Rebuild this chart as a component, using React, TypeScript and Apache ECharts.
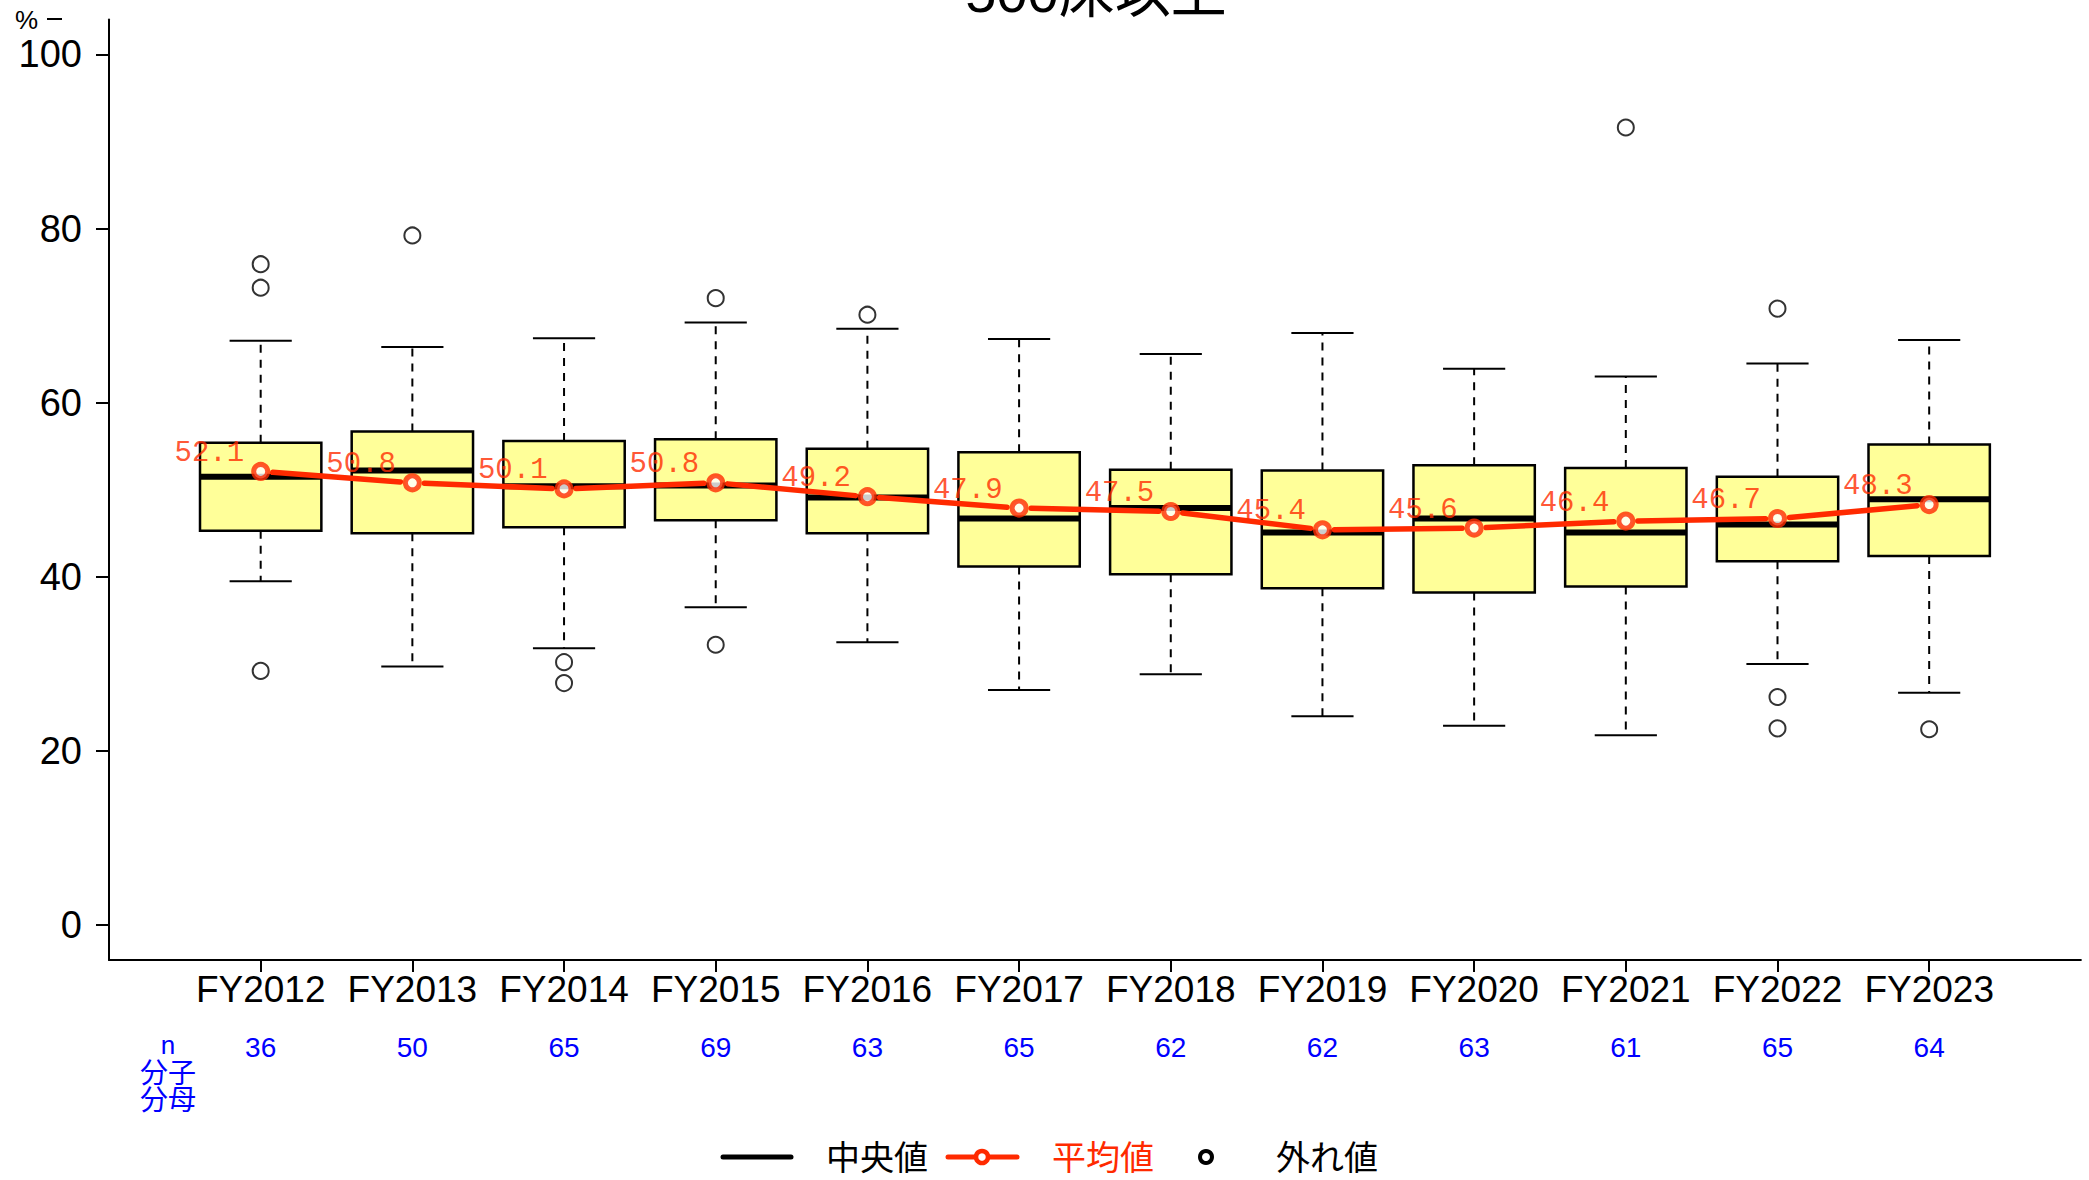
import React, { useEffect, useRef } from 'react';
import * as echarts from 'echarts';

const categories = ['FY2012', 'FY2013', 'FY2014', 'FY2015', 'FY2016', 'FY2017', 'FY2018', 'FY2019', 'FY2020', 'FY2021', 'FY2022', 'FY2023'];
const counts = [36, 50, 65, 69, 63, 65, 62, 62, 63, 61, 65, 64];
const whiskerLow = [39.5, 29.7, 31.8, 36.5, 32.5, 27.0, 28.8, 24.0, 22.9, 21.8, 30.0, 26.7];
const q1 = [45.3, 45.0, 45.7, 46.5, 45.0, 41.2, 40.3, 38.7, 38.2, 38.9, 41.8, 42.4];
const medians = [51.5, 52.2, 50.4, 50.5, 49.1, 46.7, 47.9, 45.1, 46.7, 45.1, 46.0, 48.9];
const q3 = [55.4, 56.7, 55.6, 55.8, 54.7, 54.3, 52.3, 52.2, 52.8, 52.5, 51.5, 55.2];
const whiskerHigh = [67.1, 66.4, 67.4, 69.2, 68.5, 67.3, 65.6, 68.0, 63.9, 63.0, 64.5, 67.2];
const means = [52.1, 50.8, 50.1, 50.8, 49.2, 47.9, 47.5, 45.4, 45.6, 46.4, 46.7, 48.3];
const outlierCats = ['FY2012', 'FY2012', 'FY2012', 'FY2013', 'FY2014', 'FY2014', 'FY2015', 'FY2015', 'FY2016', 'FY2021', 'FY2022', 'FY2022', 'FY2022', 'FY2023'];
const outlierValues = [75.9, 73.2, 29.2, 79.2, 30.2, 27.8, 72.0, 32.2, 70.1, 91.6, 70.8, 26.2, 22.6, 22.5];
const yTicks = [0, 20, 40, 60, 80, 100];
const title = '500床以上';
const legendLabels = ['中央値', '平均値', '外れ値'];
const nRowLabels = ['n', '分子', '分母'];

const SANS = "'Liberation Sans', 'Noto Sans CJK JP', sans-serif";
const CJK = "'Noto Sans CJK JP', sans-serif";
const RED = '#ff2a00';
const BLUE = '#0000ff';

export default function App() {
  const ref = useRef<HTMLDivElement>(null);
  useEffect(() => {
    if (!ref.current) return;
    const chart = echarts.init(ref.current, null, { renderer: 'svg' });
    const xCats = ['', ...categories, ' '];
    const nCats = ['', ...counts.map(String), ' '];
    const boxData = categories.map((_, i) => [i + 1, whiskerLow[i], q1[i], medians[i], q3[i], whiskerHigh[i]]);
    const meanData = means.map((m, i) => [i + 1, m]);
    const outlierData = outlierCats.map((c, i) => [categories.indexOf(c) + 1, outlierValues[i]]);

    const option: any = {
      animation: false,
      backgroundColor: '#ffffff',
      grid: { left: 109, right: 6, top: 19.5, bottom: 220, containLabel: false },
      xAxis: [
        {
          type: 'category',
          data: xCats,
          boundaryGap: false,
          position: 'bottom',
          axisLine: { show: true, onZero: false, lineStyle: { color: '#000', width: 2 } },
          axisTick: { show: true, length: 12, lineStyle: { color: '#000', width: 2 }, interval: (idx: number, val: string) => val.trim() !== '' },
          axisLabel: { interval: 0, fontSize: 37, fontFamily: SANS, color: '#000', margin: 11 },
          splitLine: { show: false },
        },
        {
          type: 'category',
          data: nCats,
          boundaryGap: false,
          position: 'bottom',
          axisLine: { show: false, onZero: false },
          axisTick: { show: false },
          axisLabel: { interval: 0, fontSize: 28, fontFamily: SANS, color: BLUE, margin: 87, verticalAlign: 'middle' },
          splitLine: { show: false },
        },
      ],
      yAxis: {
        type: 'value',
        min: -4,
        max: 104,
        axisLine: { show: true, lineStyle: { color: '#000', width: 2 } },
        axisTick: { show: true, length: 13, customValues: yTicks, lineStyle: { color: '#000', width: 2 } },
        axisLabel: { customValues: yTicks, fontSize: 38, fontFamily: SANS, color: '#000', margin: 27 },
        splitLine: { show: false },
      },
      series: [
        {
          type: 'custom',
          xAxisIndex: 0,
          data: boxData,
          encode: { x: 0, y: [1, 2, 3, 4, 5] },
          z: 2,
          renderItem: (params: any, api: any) => {
            const x = api.value(0);
            const pLow = api.coord([x, api.value(1)]);
            const pQ1 = api.coord([x, api.value(2)]);
            const pMed = api.coord([x, api.value(3)]);
            const pQ3 = api.coord([x, api.value(4)]);
            const pHigh = api.coord([x, api.value(5)]);
            const band = api.coord([2, 0])[0] - api.coord([1, 0])[0];
            const hb = band * 0.4;
            const hc = band * 0.205;
            const cx = pMed[0];
            return {
              type: 'group',
              children: [
                { type: 'line', shape: { x1: cx, y1: pQ3[1], x2: cx, y2: pHigh[1] }, style: { stroke: '#000', lineWidth: 2, lineDash: [8, 7] } },
                { type: 'line', shape: { x1: cx, y1: pQ1[1], x2: cx, y2: pLow[1] }, style: { stroke: '#000', lineWidth: 2, lineDash: [8, 7] } },
                { type: 'line', shape: { x1: cx - hc, y1: pHigh[1], x2: cx + hc, y2: pHigh[1] }, style: { stroke: '#000', lineWidth: 2 } },
                { type: 'line', shape: { x1: cx - hc, y1: pLow[1], x2: cx + hc, y2: pLow[1] }, style: { stroke: '#000', lineWidth: 2 } },
                { type: 'rect', shape: { x: cx - hb, y: pQ3[1], width: hb * 2, height: pQ1[1] - pQ3[1] }, style: { fill: '#ffff99', stroke: '#000', lineWidth: 2.5 } },
                { type: 'line', shape: { x1: cx - hb, y1: pMed[1], x2: cx + hb, y2: pMed[1] }, style: { stroke: '#000', lineWidth: 6 } },
              ],
            };
          },
        },
        {
          type: 'custom',
          xAxisIndex: 0,
          data: meanData,
          encode: { x: 0, y: 1 },
          z: 3,
          renderItem: (params: any, api: any) => {
            const i = params.dataIndex;
            if (i >= meanData.length - 1) return { type: 'group', children: [] };
            const a = api.coord([meanData[i][0], meanData[i][1]]);
            const b = api.coord([meanData[i + 1][0], meanData[i + 1][1]]);
            const dx = b[0] - a[0];
            const dy = b[1] - a[1];
            const len = Math.sqrt(dx * dx + dy * dy);
            const g = 12;
            const ux = dx / len;
            const uy = dy / len;
            return {
              type: 'line',
              shape: { x1: a[0] + ux * g, y1: a[1] + uy * g, x2: b[0] - ux * g, y2: b[1] - uy * g },
              style: { stroke: RED, lineWidth: 5.5, lineCap: 'round' },
            };
          },
        },
        {
          type: 'scatter',
          xAxisIndex: 0,
          data: meanData,
          symbol: 'circle',
          symbolSize: 14,
          z: 4,
          itemStyle: { color: '#ffffff', borderColor: RED, borderWidth: 5 },
          label: {
            show: true,
            position: 'left',
            distance: 7,
            offset: [0, -18],
            formatter: (p: any) => Number(p.value[1]).toFixed(1),
            fontFamily: "'Liberation Mono', 'DejaVu Sans Mono', monospace",
            fontSize: 29,
            color: RED,
          },
        },
        {
          type: 'scatter',
          xAxisIndex: 0,
          data: outlierData,
          symbol: 'circle',
          symbolSize: 16,
          z: 4,
          itemStyle: { color: '#ffffff', borderColor: '#000', borderWidth: 2 },
        },
      ],
      graphic: [
        { type: 'text', x: 1096, y: -8, style: { text: title, fontSize: 56, fontFamily: SANS, fill: '#000', textAlign: 'center', textVerticalAlign: 'middle' } },
        { type: 'text', x: 15, y: 20, style: { text: '%', fontSize: 26, fontFamily: SANS, fill: '#000', textAlign: 'left', textVerticalAlign: 'middle' } },
        { type: 'line', shape: { x1: 47, y1: 19, x2: 62, y2: 19 }, style: { stroke: '#000', lineWidth: 2 } },
        {
          type: 'text',
          x: 168,
          y: 1072,
          style: {
            text: `{n|${nRowLabels[0]}}\n{c|${nRowLabels[1]}}\n{c|${nRowLabels[2]}}`,
            fill: BLUE,
            textAlign: 'center',
            textVerticalAlign: 'middle',
            rich: {
              n: { fontSize: 26, lineHeight: 24, fontFamily: SANS, fill: BLUE, align: 'center' },
              c: { fontSize: 28, lineHeight: 27, fontFamily: CJK, fill: BLUE, align: 'center' },
            },
          },
        },
        { type: 'line', shape: { x1: 723, y1: 1157, x2: 791, y2: 1157 }, style: { stroke: '#000', lineWidth: 5, lineCap: 'round' } },
        { type: 'text', x: 826, y: 1155, style: { text: legendLabels[0], fontSize: 34, lineHeight: 34, fontFamily: CJK, fill: '#000', textAlign: 'left', textVerticalAlign: 'middle' } },
        { type: 'line', shape: { x1: 948, y1: 1157, x2: 1017, y2: 1157 }, style: { stroke: RED, lineWidth: 5, lineCap: 'round' } },
        { type: 'circle', shape: { cx: 982, cy: 1157, r: 6 }, style: { fill: '#fff', stroke: RED, lineWidth: 4.5 } },
        { type: 'text', x: 1052, y: 1155, style: { text: legendLabels[1], fontSize: 34, lineHeight: 34, fontFamily: CJK, fill: RED, textAlign: 'left', textVerticalAlign: 'middle' } },
        { type: 'circle', shape: { cx: 1206, cy: 1157, r: 6 }, style: { fill: '#fff', stroke: '#000', lineWidth: 4 } },
        { type: 'text', x: 1276, y: 1155, style: { text: legendLabels[2], fontSize: 34, lineHeight: 34, fontFamily: CJK, fill: '#000', textAlign: 'left', textVerticalAlign: 'middle' } },
      ],
    };
    chart.setOption(option);
    return () => chart.dispose();
  }, []);
  return <div ref={ref} style={{ position: 'absolute', left: 0, top: 0, width: 2089, height: 1180 }} />;
}
